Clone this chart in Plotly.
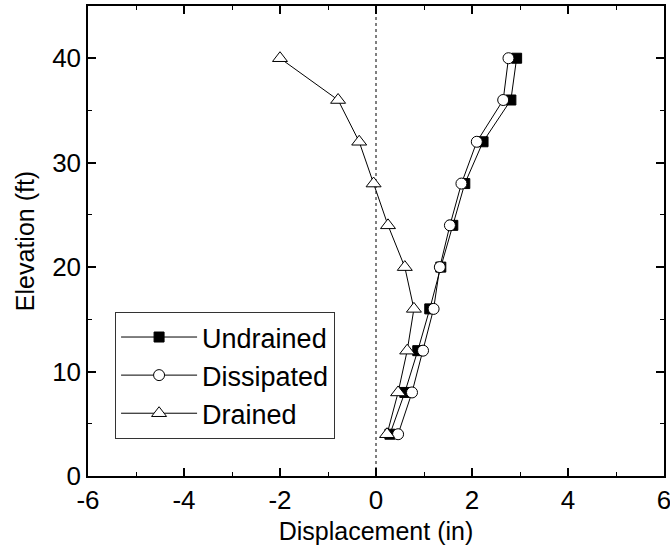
import plotly.graph_objects as go

# Elevation of each measurement point (ft)
elevation = [40, 36, 32, 28, 24, 20, 16, 12, 8, 4]

# Lateral displacement (in) for each drainage condition
undrained = [2.93, 2.81, 2.23, 1.85, 1.60, 1.35, 1.12, 0.87, 0.60, 0.29]
dissipated = [2.76, 2.65, 2.10, 1.78, 1.54, 1.33, 1.20, 0.98, 0.75, 0.46]
drained = [-2.00, -0.79, -0.35, -0.05, 0.25, 0.60, 0.79, 0.65, 0.46, 0.23]

x_ticks = [-6, -4, -2, 0, 2, 4, 6]
x_tick_labels = ["-6", "-4", "-2", "0", "2", "4", "6"]
y_ticks = [0, 10, 20, 30, 40]
y_tick_labels = ["0", "10", "20", "30", "40"]

FONT = "Liberation Sans, Arial, sans-serif"

series = [
    ("Undrained", undrained, "square", "black", 10),
    ("Dissipated", dissipated, "circle", "white", 11),
    ("Drained", drained, "triangle-up", "white", 13),
]

fig = go.Figure()
for name, xs, symbol, fill, size in series:
    fig.add_trace(go.Scatter(
        x=xs, y=elevation, name=name, mode="lines+markers",
        line=dict(color="black", width=1),
        marker=dict(symbol=symbol, size=size, color=fill,
                    line=dict(color="black", width=1)),
    ))

# zero-displacement reference
fig.add_vline(x=0, line=dict(color="black", width=1, dash="dot"), layer="below")

axis_common = dict(
    showline=True, linecolor="black", linewidth=1.5, mirror="ticks",
    ticks="inside", ticklen=8, tickwidth=1.5, tickcolor="black",
    showgrid=False, zeroline=False, automargin=False,
    ticklabeloverflow="allow",
    tickfont=dict(family=FONT, size=26, color="black"),
)

fig.update_xaxes(
    range=[-6, 6], tickvals=x_ticks, ticktext=x_tick_labels,
    title=dict(text="Displacement (in)", font=dict(family=FONT, size=25, color="black"), standoff=9),
    minor=dict(dtick=1, ticks="inside", ticklen=4, tickcolor="black", tickwidth=1),
    **axis_common,
)
fig.update_yaxes(
    range=[0, 45], tickvals=y_ticks, ticktext=y_tick_labels,
    title=dict(text="Elevation (ft)", font=dict(family=FONT, size=25, color="black"), standoff=10),
    minor=dict(dtick=5, ticks="inside", ticklen=4, tickcolor="black", tickwidth=1),
    **axis_common,
)

fig.update_layout(
    width=670, height=550,
    margin=dict(l=88, r=6, t=6, b=74),
    paper_bgcolor="white", plot_bgcolor="white",
    font=dict(family=FONT, color="black"),
    showlegend=True,
    legend=dict(
        x=0.047, y=0.349, xanchor="left", yanchor="top",
        bordercolor="#333333", borderwidth=1, bgcolor="white",
        font=dict(family=FONT, size=27, color="black"),
        itemwidth=76, tracegroupgap=0,
    ),
)

fig.write_html("out.html")
